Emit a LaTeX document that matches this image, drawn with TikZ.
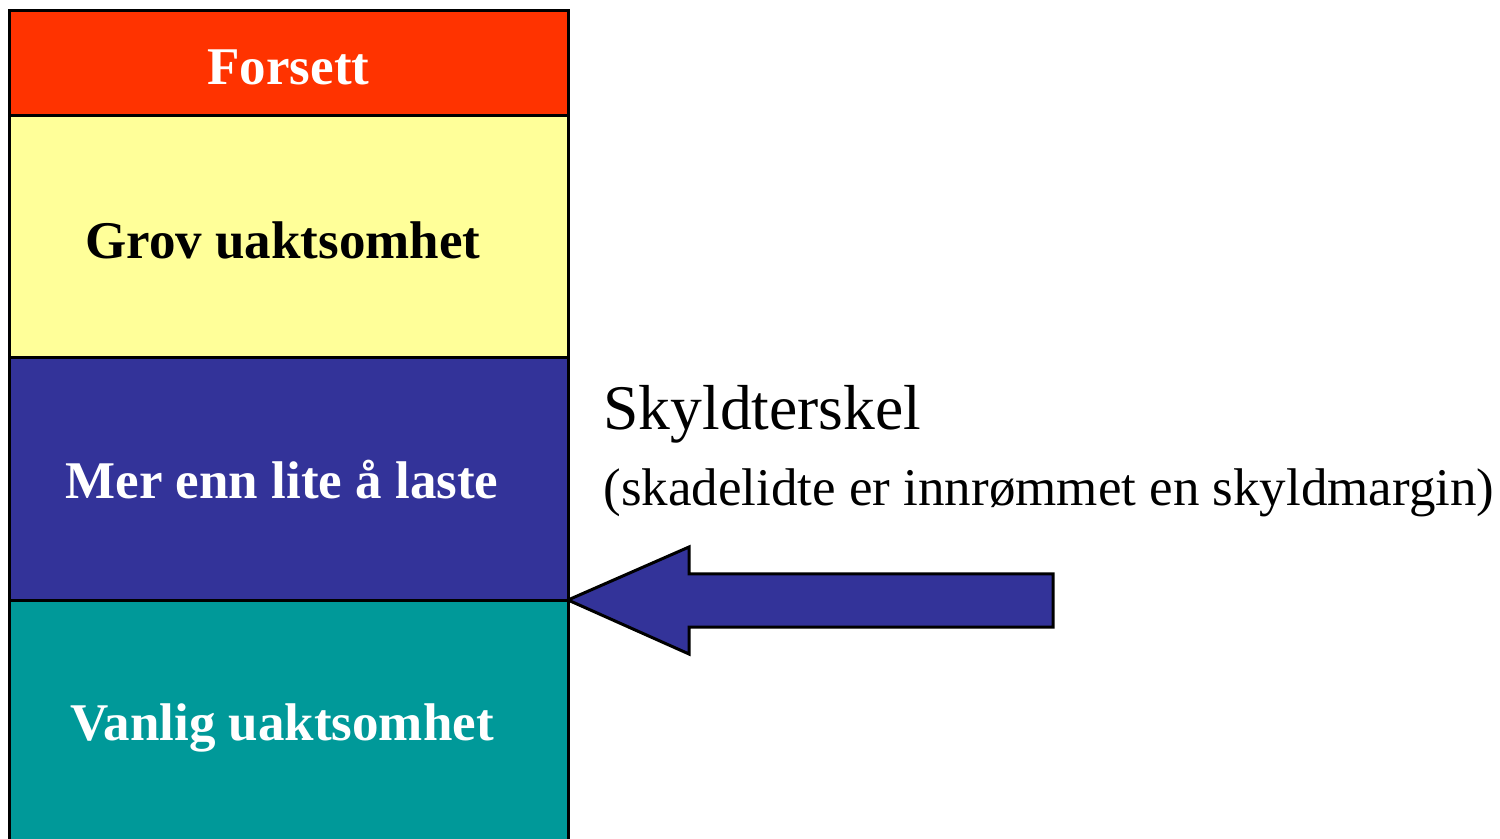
\documentclass[tikz,border=0pt]{standalone}
\usepackage{fontspec}
\setmainfont{Liberation Serif}
\definecolor{cred}{HTML}{FF3300}
\definecolor{cyellow}{HTML}{FFFF99}
\definecolor{cblue}{HTML}{333399}
\definecolor{cteal}{HTML}{009999}
\tikzset{
  band/.style={draw=black, line width=1.5pt},
  bandtext/.style={anchor=base, font=\fontsize{26.5}{30}\selectfont\bfseries, inner sep=0pt},
  sidetext/.style={anchor=base west, inner sep=0pt},
  bigarrow/.style={draw=black, fill=cblue, line width=1.5pt, line join=miter}
}
\begin{document}
\begin{tikzpicture}[x=0.5pt, y=-0.5pt]
\useasboundingbox (0,0) rectangle (1500,839);
\clip (0,0) rectangle (1500,839);
\fill[white] (0,0) rectangle (1500,839);
% bands
\path[band, fill=cred] (9,11) rectangle (568,116);
\path[band, fill=cyellow] (9,116) rectangle (568,358);
\path[band, fill=cblue] (9,358) rectangle (568,600);
\path[band, fill=cteal] (9,600) rectangle (568,860);
% texts
\node[bandtext, text=white] (forsett) at (288.5,85) {Forsett};
\node[bandtext, text=black] (grov) at (283,259) {Grov uaktsomhet};
\node[bandtext, text=white] (mer) at (282,499) {Mer enn lite å laste};
\node[bandtext, text=white] (vanlig) at (282,740) {Vanlig uaktsomhet};
\node[sidetext, font=\fontsize{31.8}{36}\selectfont] (skyld) at (603,430) {Skyldterskel};
\node[sidetext, font=\fontsize{26.5}{30}\selectfont] (margin) at (603,506) {(skadelidte er innrømmet en skyldmargin)};
% arrow
\coordinate (tip) at (568,600);
\draw[bigarrow] (tip) -- (689,547) -- (689,574) -- (1053,574) -- (1053,627) -- (689,627) -- (689,654) -- cycle;
\end{tikzpicture}
\end{document}
